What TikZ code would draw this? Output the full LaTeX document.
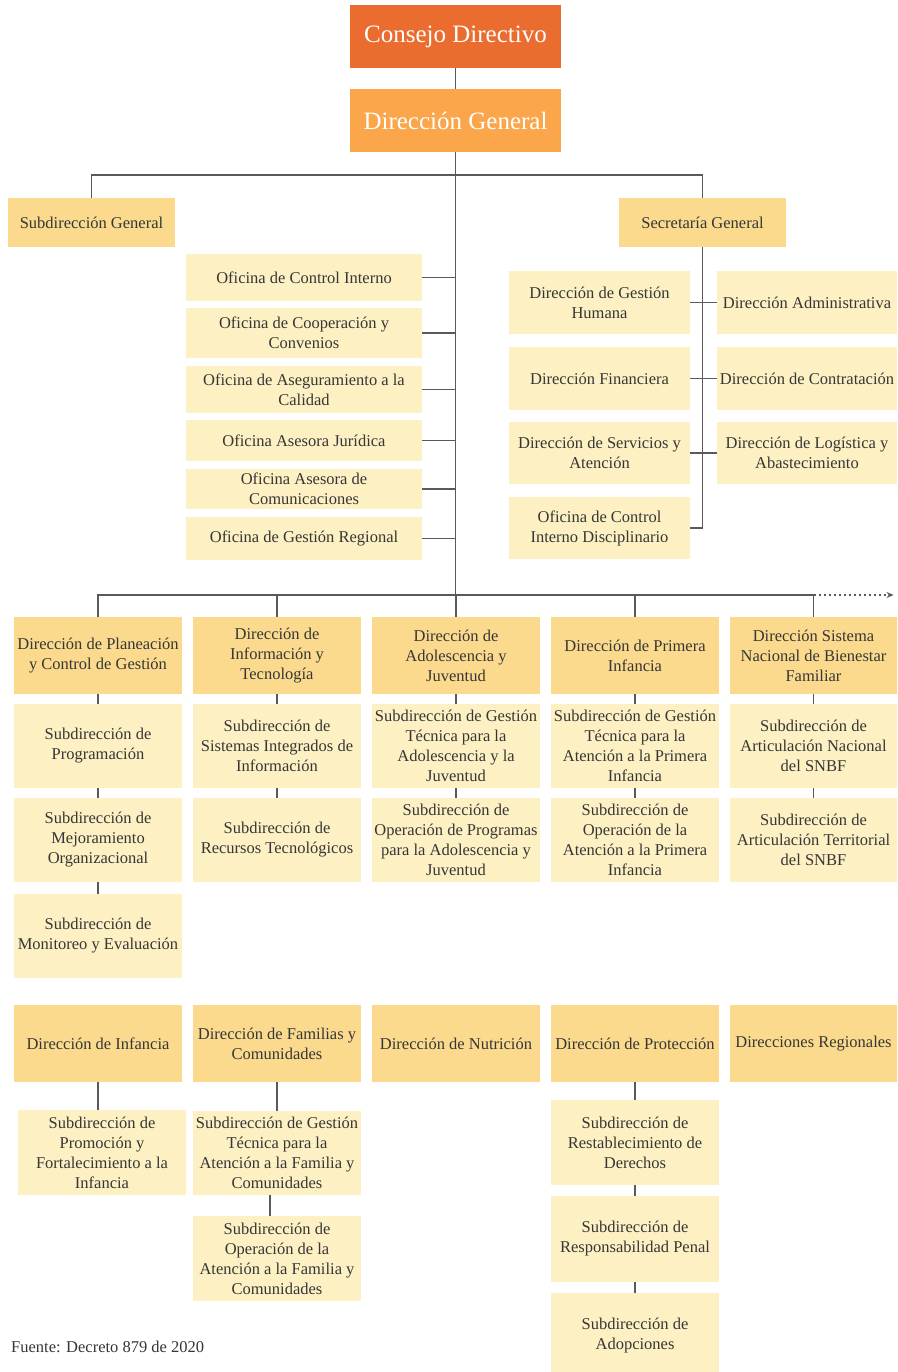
\documentclass[tikz,border=0pt]{standalone}
\usepackage{fontspec}
\setmainfont{Liberation Serif}
\usetikzlibrary{arrows.meta}
\definecolor{corange}{HTML}{EA6C2F}
\definecolor{lorange}{HTML}{FBA64B}
\definecolor{ymid}{HTML}{FBDA8E}
\definecolor{ylight}{HTML}{FDF0C3}
\definecolor{txt}{HTML}{363636}
\definecolor{linec}{HTML}{5A5A5A}
\begin{document}
\begin{tikzpicture}[x=1pt,y=-1pt,
  basebox/.style={draw=none,align=center,inner sep=1pt,text=txt,font=\fontsize{16.5}{20}\selectfont},
  tbox/.style={basebox,text=white,font=\fontsize{25}{30}\selectfont,minimum width=211pt,minimum height=63pt},
  hbox/.style={basebox,fill=ymid},
  lbox/.style={basebox,fill=ylight},
  colbox/.style={minimum width=168pt},
  conn/.style={draw=linec,line width=1.3pt}]
\useasboundingbox[fill=white] (0,0) rectangle (897,1372);
\clip (0,0) rectangle (897,1372);

% top
\node[tbox,fill=corange] (cd) at (455.5,36.5) {Consejo Directivo};
\node[tbox,fill=lorange] (dg) at (455.5,120.5) {Dirección General};

\node[hbox,minimum width=167pt,minimum height=49pt] (sg) at (91.5,222.5) {Subdirección General};
\node[hbox,minimum width=167pt,minimum height=49pt] (sec) at (702.5,222.5) {Secretaría General};

% oficinas
\node[lbox,minimum width=236pt,minimum height=47pt] (oci) at (304,277.5) {Oficina de Control Interno};
\node[lbox,minimum width=236pt,minimum height=50pt] (occ) at (304,333) {Oficina de Cooperación y\\Convenios};
\node[lbox,minimum width=236pt,minimum height=47pt] (oac) at (304,389.5) {Oficina de Aseguramiento a la\\Calidad};
\node[lbox,minimum width=236pt,minimum height=41pt] (oaj) at (304,440.5) {Oficina Asesora Jurídica};
\node[lbox,minimum width=236pt,minimum height=40pt] (oacom) at (304,489) {Oficina Asesora de\\Comunicaciones};
\node[lbox,minimum width=236pt,minimum height=43pt] (ogr) at (304,538.5) {Oficina de Gestión Regional};

% secretaria
\node[lbox,minimum width=181pt,minimum height=63pt] (dgh) at (599.5,302.5) {Dirección de Gestión\\Humana};
\node[lbox,minimum width=181pt,minimum height=63pt] (dfin) at (599.5,378.5) {Dirección Financiera};
\node[lbox,minimum width=181pt,minimum height=62pt] (dsa) at (599.5,453) {Dirección de Servicios y\\Atención};
\node[lbox,minimum width=181pt,minimum height=62pt] (ocid) at (599.5,528) {Oficina de Control\\Interno Disciplinario};
\node[lbox,minimum width=180pt,minimum height=63pt] (dad) at (807,302.5) {Dirección Administrativa};
\node[lbox,minimum width=180pt,minimum height=63pt] (dcon) at (807,378.5) {Dirección de Contratación};
\node[lbox,minimum width=180pt,minimum height=62pt] (dlog) at (807,453) {Dirección de Logística y\\Abastecimiento};

% row 1 heads
\node[hbox,colbox,minimum height=77pt] (pl) at (98,655.5) {Dirección de Planeación\\y Control de Gestión};
\node[hbox,colbox,minimum height=77pt] (info) at (277,655.5) {Dirección de\\Información y\\Tecnología};
\node[hbox,colbox,minimum height=77pt] (adol) at (456,655.5) {Dirección de\\Adolescencia y\\Juventud};
\node[hbox,colbox,minimum height=77pt] (prim) at (635,655.5) {Dirección de Primera\\Infancia};
\node[hbox,colbox,minimum height=77pt] (sn) at (813.5,655.5) {Dirección Sistema\\Nacional de Bienestar\\Familiar};

% row 1 subs
\node[lbox,colbox,minimum height=84pt] (pl1) at (98,746) {Subdirección de\\Programación};
\node[lbox,colbox,minimum height=84pt] (pl2) at (98,840) {Subdirección de\\Mejoramiento\\Organizacional};
\node[lbox,colbox,minimum height=84pt] (pl3) at (98,936) {Subdirección de\\Monitoreo y Evaluación};
\node[lbox,colbox,minimum height=84pt] (info1) at (277,746) {Subdirección de\\Sistemas Integrados de\\Información};
\node[lbox,colbox,minimum height=84pt] (info2) at (277,840) {Subdirección de\\Recursos Tecnológicos};
\node[lbox,colbox,minimum height=84pt] (adol1) at (456,746) {Subdirección de Gestión\\Técnica para la\\Adolescencia y la\\Juventud};
\node[lbox,colbox,minimum height=84pt] (adol2) at (456,840) {Subdirección de\\Operación de Programas\\para la Adolescencia y\\Juventud};
\node[lbox,colbox,minimum height=84pt] (prim1) at (635,746) {Subdirección de Gestión\\Técnica para la\\Atención a la Primera\\Infancia};
\node[lbox,colbox,minimum height=84pt] (prim2) at (635,840) {Subdirección de\\Operación de la\\Atención a la Primera\\Infancia};
\node[lbox,colbox,minimum height=84pt] (sn1) at (813.5,746) {Subdirección de\\Articulación Nacional\\del SNBF};
\node[lbox,colbox,minimum height=84pt] (sn2) at (813.5,840) {Subdirección de\\Articulación Territorial\\del SNBF};

% row 2 heads
\node[hbox,colbox,minimum height=77pt] (inf) at (98,1043.5) {Dirección de Infancia};
\node[hbox,colbox,minimum height=77pt] (fam) at (277,1043.5) {Dirección de Familias y\\Comunidades};
\node[hbox,colbox,minimum height=77pt] (nut) at (456,1043.5) {Dirección de Nutrición};
\node[hbox,colbox,minimum height=77pt] (prot) at (635,1043.5) {Dirección de Protección};
\node[hbox,colbox,minimum height=77pt] (reg) at (813.5,1043.5) {Direcciones Regionales};

% row 2 subs
\node[lbox,colbox,minimum height=85pt] (infs) at (102,1152.5) {Subdirección de\\Promoción y\\Fortalecimiento a la\\Infancia};
\node[lbox,colbox,minimum height=84pt] (fams1) at (277,1153) {Subdirección de Gestión\\Técnica para la\\Atención a la Familia y\\Comunidades};
\node[lbox,colbox,minimum height=85pt] (fams2) at (277,1258.5) {Subdirección de\\Operación de la\\Atención a la Familia y\\Comunidades};
\node[lbox,colbox,minimum height=85pt] (pr1) at (635,1142.5) {Subdirección de\\Restablecimiento de\\Derechos};
\node[lbox,colbox,minimum height=86pt] (pr2) at (635,1239) {Subdirección de\\Responsabilidad Penal};
\node[lbox,colbox,minimum height=86pt] (pr3) at (635,1336) {Subdirección de\\Adopciones};

\node[anchor=base west,inner sep=0pt,text=txt,font=\fontsize{16.5}{20}\selectfont] (src) at (11,1352) {Fuente: Decreto 879 de 2020};

% connectors
\coordinate (top) at (456,175);
\coordinate (bus) at (456,595);
\draw[conn] (cd.south) -- (dg.north);
\draw[conn] (dg.south) -- (dg.south |- bus);
\draw[conn] (sg.north) |- (top) -| (sec.north);
\foreach \n in {oci,occ,oac,oaj,oacom,ogr}{
  \draw[conn] (\n.east) -- (\n.east -| dg.south);
}
\draw[conn] (sec.south) |- (ocid.east);
\draw[conn] (dgh.east) -- (dad.west);
\draw[conn] (dfin.east) -- (dcon.west);
\draw[conn] (dsa.east) -- (dlog.west);

\draw[conn] (pl.north) |- (bus) -| (sn.north);
\draw[conn] (info.north) -- (info.north |- bus);
\draw[conn] (adol.north) -- (adol.north |- bus);
\draw[conn] (prim.north) -- (prim.north |- bus);
\draw[draw=linec,line width=1.1pt,dash pattern=on 2.5pt off 2.5pt,-{Stealth[length=7pt,width=6pt]}] (sn.north |- bus) -- ++(80,0) coordinate (arrowend);

\draw[conn] (pl.south) -- (pl1.north);
\draw[conn] (pl1.south) -- (pl2.north);
\draw[conn] (pl2.south) -- (pl3.north);
\draw[conn] (info.south) -- (info1.north);
\draw[conn] (info1.south) -- (info2.north);
\draw[conn] (adol.south) -- (adol1.north);
\draw[conn] (adol1.south) -- (adol2.north);
\draw[conn] (prim.south) -- (prim1.north);
\draw[conn] (prim1.south) -- (prim2.north);
\draw[conn] (sn.south) -- (sn1.north);
\draw[conn] (sn1.south) -- (sn2.north);

\draw[conn] (inf.south) -- (inf.south |- infs.north);
\draw[conn] (fam.south) -- (fams1.north);
\draw[conn] ([xshift=-7pt]fams1.south) -- ([xshift=-7pt]fams1.south |- fams2.north);
\draw[conn] (prot.south) -- (pr1.north);
\draw[conn] (pr1.south) -- (pr2.north);
\draw[conn] (pr2.south) -- (pr3.north);
\end{tikzpicture}
\end{document}
